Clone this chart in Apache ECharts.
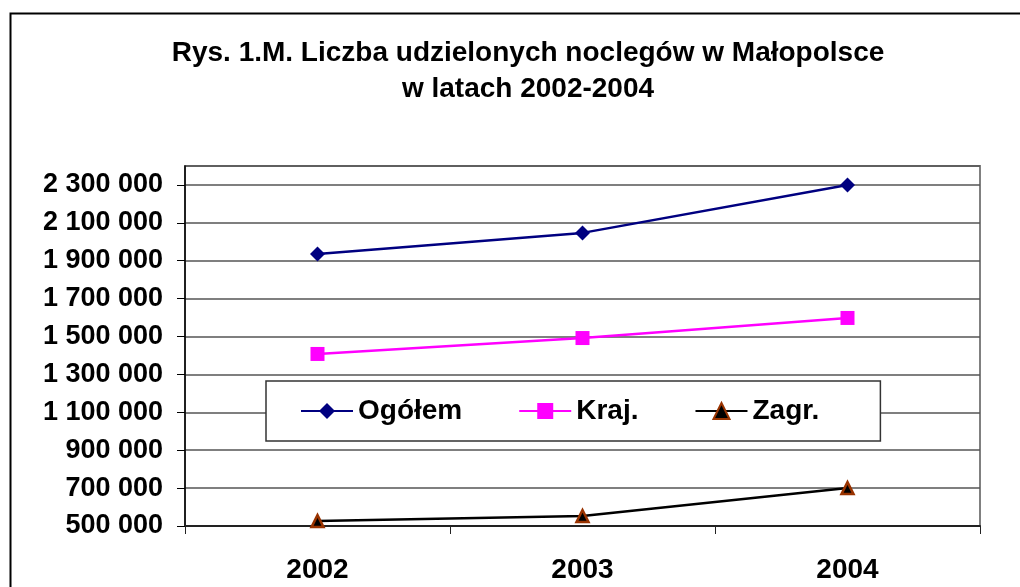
<!DOCTYPE html>
<html>
<head>
<meta charset="utf-8">
<script src="https://cdn.jsdelivr.net/npm/echarts@6/dist/echarts.min.js"></script>
<style>
    html, body { margin: 0; padding: 0; background: #fff; }
    #chart { width: 1020px; height: 587px; }
</style>
</head>
<body>
<div id="chart"></div>
<script>
// dane
const years = ['2002', '2003', '2004'];
const ogolem = [1936000, 2047000, 2300000];
const kraj = [1408000, 1492000, 1598000];
const zagr = [526000, 553000, 700000];

const FONT = "'Liberation Sans', Arial, sans-serif";

// separator tysięcy - spacja
function fmt(v) {
    return String(v).replace(/\B(?=(\d{3})+(?!\d))/g, ' ');
}

const chart = echarts.init(document.getElementById('chart'), null, { renderer: 'canvas' });

chart.setOption({
    backgroundColor: '#fff',
    animation: false,
    title: {
        text: 'Rys. 1.M. Liczba udzielonych noclegów w Małopolsce\nw latach 2002-2004',
        left: 523,
        top: 30,
        textAlign: 'center',
        textStyle: {
            fontFamily: FONT,
            fontWeight: 'bold',
            fontSize: 28,
            lineHeight: 36,
            color: '#000'
        }
    },
    // zewnętrzna ramka wykresu
    graphic: [{
        type: 'rect',
        shape: { x: 10.5, y: 13.5, width: 1100, height: 700 },
        style: { fill: null, stroke: '#000', lineWidth: 2 },
        silent: true
    }],
    legend: {
        left: 266,
        top: 381,
        padding: [16, 61, 16, 34],
        itemGap: 56,
        itemWidth: 52,
        itemHeight: 20,
        backgroundColor: '#fff',
        borderColor: '#333',
        borderWidth: 1.5,
        textStyle: {
            fontFamily: FONT,
            fontWeight: 'bold',
            fontSize: 28,
            color: '#000'
        },
        data: ['Ogółem', 'Kraj.', 'Zagr.']
    },
    grid: {
        left: 185,
        right: 40,
        top: 166,
        bottom: 61,
        show: true,
        borderColor: '#808080',
        borderWidth: 2
    },
    xAxis: {
        type: 'category',
        data: years,
        boundaryGap: true,
        axisLine: { lineStyle: { color: '#222', width: 2 } },
        axisTick: { show: true, inside: false, length: 8, lineStyle: { color: '#222', width: 1 } },
        axisLabel: {
            margin: 30,
            fontFamily: FONT,
            fontWeight: 'bold',
            fontSize: 28,
            color: '#000'
        },
        splitLine: { show: false }
    },
    yAxis: {
        type: 'value',
        min: 500000,
        max: 2400000,
        interval: 200000,
        axisLine: { show: true, lineStyle: { color: '#000', width: 1.5 } },
        axisTick: { show: true, inside: false, length: 8, lineStyle: { color: '#000', width: 1 } },
        axisLabel: {
            margin: 22,
            showMaxLabel: false,
            fontFamily: FONT,
            fontWeight: 'bold',
            fontSize: 27,
            color: '#000',
            formatter: fmt
        },
        splitLine: { show: true, lineStyle: { color: '#555', width: 1.5 } }
    },
    series: [
        {
            name: 'Ogółem',
            type: 'line',
            data: ogolem,
            symbol: 'diamond',
            symbolSize: 15,
            lineStyle: { color: '#000080', width: 2.5 },
            itemStyle: { color: '#000080' }
        },
        {
            name: 'Kraj.',
            type: 'line',
            data: kraj,
            symbol: 'rect',
            symbolSize: 14,
            lineStyle: { color: '#ff00ff', width: 2.5 },
            itemStyle: { color: '#ff00ff' }
        },
        {
            name: 'Zagr.',
            type: 'line',
            data: zagr,
            symbol: 'triangle',
            symbolSize: 12,
            lineStyle: { color: '#000', width: 2.5 },
            itemStyle: { color: '#000', borderColor: '#993300', borderWidth: 2.5 }
        }
    ]
});
</script>
</body>
</html>
